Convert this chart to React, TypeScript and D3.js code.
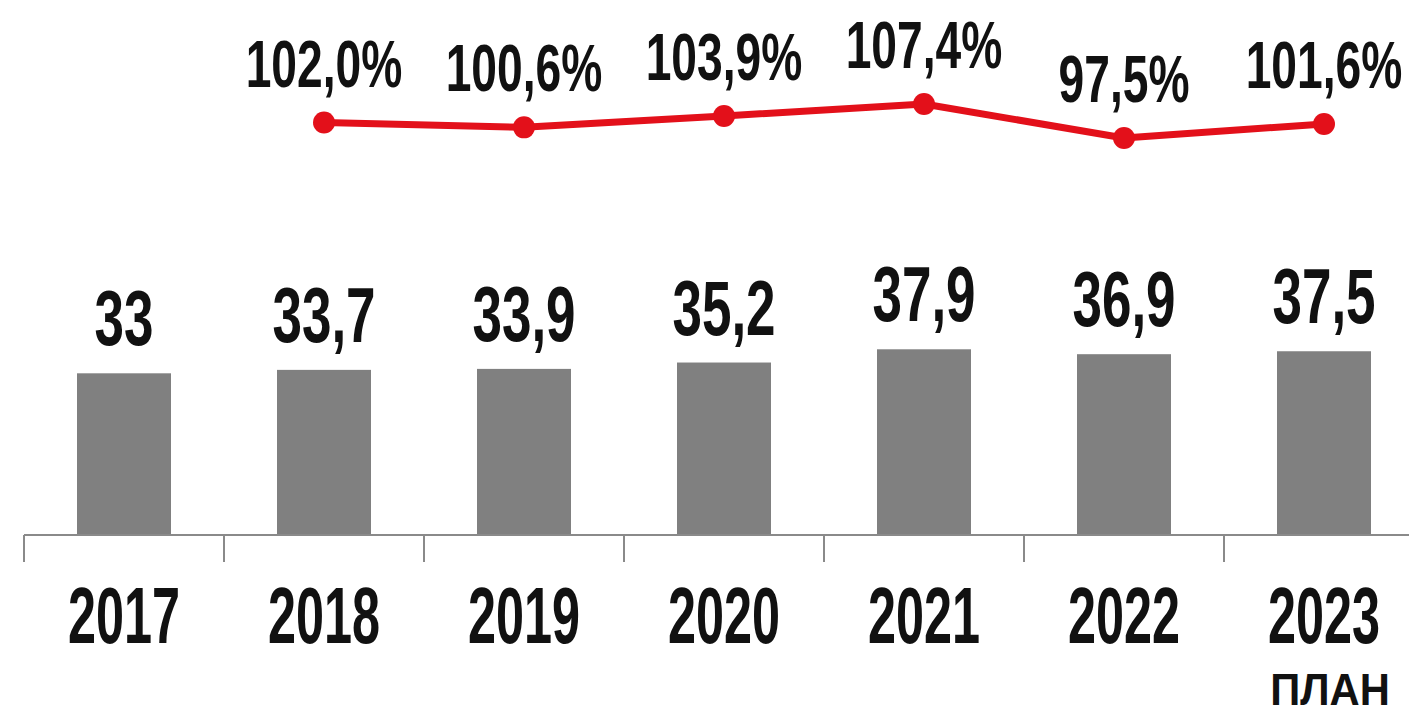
import React from "react";
import * as d3 from "d3";

const years = ["2017", "2018", "2019", "2020", "2021", "2022", "2023"];
const values = [33, 33.7, 33.9, 35.2, 37.9, 36.9, 37.5];
const valueLabels = ["33", "33,7", "33,9", "35,2", "37,9", "36,9", "37,5"];
const growthYears = ["2018", "2019", "2020", "2021", "2022", "2023"];
const growth = [102.0, 100.6, 103.9, 107.4, 97.5, 101.6];
const growthLabels = ["102,0%", "100,6%", "103,9%", "107,4%", "97,5%", "101,6%"];
const planLabel = "ПЛАН";

const W = 1409;
const H = 716;
const FONT = "'Liberation Sans', Arial, sans-serif";

export default function App() {
  const x = d3.scaleBand<string>().domain(years).range([24, 1424]).paddingInner(0.53).paddingOuter(0.265);
  const y = d3.scaleLinear().domain([0, 40]).range([535, 339]);
  const yl = d3.scaleLinear().domain([97.5, 107.4]).range([138, 104]);
  const bw = x.bandwidth();
  const step = x.step();
  const cx = (d: string) => (x(d) as number) + bw / 2;
  const line = d3
    .line<number>()
    .x((_, i) => cx(growthYears[i]))
    .y((d) => yl(d));
  const tickXs = years.map((d) => (x(d) as number) - (step - bw) / 2).concat([(x(years[6]) as number) + bw + (step - bw) / 2]);
  const baseY = y(0);

  return (
    <svg width={W} height={H} style={{ position: "absolute", left: 0, top: 0, background: "#fff" }}>
      <rect x={0} y={0} width={W} height={H} fill="#fff" />
      {years.map((d, i) => (
        <rect key={d} x={x(d)} y={y(values[i])} width={bw} height={baseY - y(values[i])} fill="#808080" />
      ))}
      <line x1={24} x2={W} y1={baseY} y2={baseY} stroke="#8a8a8a" strokeWidth={2} />
      {tickXs.map((t, i) => (
        <line key={i} x1={t} x2={t} y1={baseY} y2={baseY + 27} stroke="#8a8a8a" strokeWidth={2} />
      ))}
      {years.map((d, i) => (
        <text
          key={"v" + d}
          transform={`translate(${cx(d)},${y(values[i]) - 28}) scale(0.68,1)`}
          textAnchor="middle"
          fontFamily={FONT}
          fontWeight="bold"
          fontSize={78}
          fill="#111"
        >
          {valueLabels[i]}
        </text>
      ))}
      {years.map((d) => (
        <text
          key={"y" + d}
          transform={`translate(${cx(d)},${643}) scale(0.63,1)`}
          textAnchor="middle"
          fontFamily={FONT}
          fontWeight="bold"
          fontSize={80}
          fill="#111"
        >
          {d}
        </text>
      ))}
      <text
        transform={`translate(${cx(years[6]) + 6},${705}) scale(0.95,1)`}
        textAnchor="middle"
        fontFamily={FONT}
        fontWeight="bold"
        fontSize={44}
        fill="#111"
      >
        {planLabel}
      </text>
      <path d={line(growth) || ""} fill="none" stroke="#e3101a" strokeWidth={7} strokeLinejoin="round" />
      {growth.map((g, i) => (
        <circle key={"c" + i} cx={cx(growthYears[i])} cy={yl(g)} r={11} fill="#e3101a" />
      ))}
      {growth.map((g, i) => (
        <text
          key={"g" + i}
          transform={`translate(${cx(growthYears[i])},${yl(g) - 36}) scale(0.7,1)`}
          textAnchor="middle"
          fontFamily={FONT}
          fontWeight="bold"
          fontSize={66}
          fill="#111"
        >
          {growthLabels[i]}
        </text>
      ))}
    </svg>
  );
}
